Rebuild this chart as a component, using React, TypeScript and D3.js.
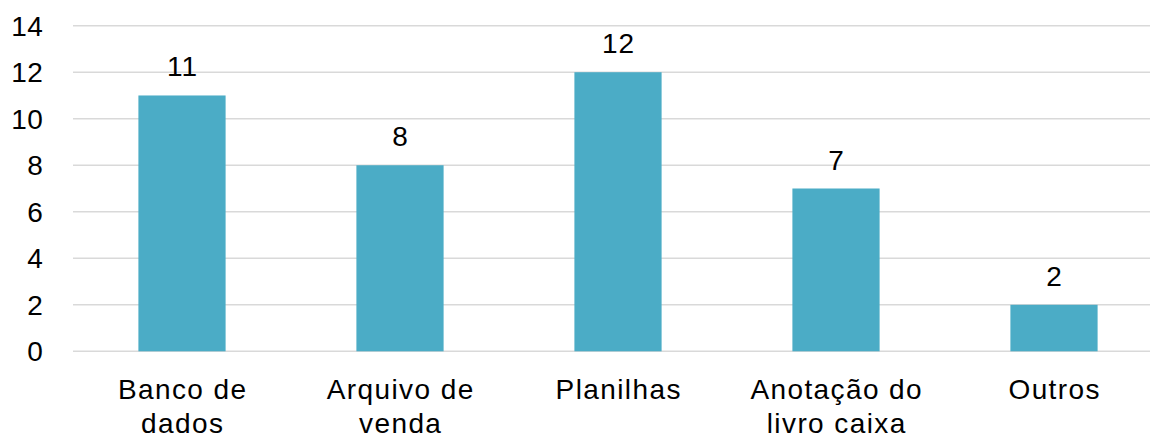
import React from "react";
import * as d3 from "d3";

const categories: string[][] = [
  ["Banco de", "dados"],
  ["Arquivo de", "venda"],
  ["Planilhas"],
  ["Anotação do", "livro caixa"],
  ["Outros"],
];
const values: number[] = [11, 8, 12, 7, 2];
const yTicks: number[] = [0, 2, 4, 6, 8, 10, 12, 14];

const W = 1150;
const H = 438;
const FONT = "'Liberation Sans', Arial, sans-serif";

export default function App() {
  const keys = categories.map((c) => c.join(" "));
  const x = d3
    .scaleBand<string>()
    .domain(keys)
    .range([73, 1163])
    .paddingInner(0.6)
    .paddingOuter(0.3);
  const y = d3.scaleLinear().domain([0, 14]).range([351.3, 25.7]);

  return (
    <div style={{ position: "absolute", left: 0, top: 0 }}>
      <svg width={W} height={H} style={{ display: "block", background: "#fff" }}>
        <g>
          {yTicks.map((t) => (
            <g key={t}>
              <line x1={73} x2={1163} y1={y(t)} y2={y(t)} stroke="#d9d9d9" strokeWidth={1.6} />
              <text
                x={43.5}
                y={y(t)}
                dy="0.35em"
                textAnchor="end"
                fontFamily={FONT}
                fontSize={28}
                letterSpacing={0.6}
                fill="#000"
              >
                {t}
              </text>
            </g>
          ))}
        </g>
        <g>
          {values.map((v, i) => {
            const k = keys[i];
            const bx = x(k)!;
            const bw = x.bandwidth();
            return (
              <g key={k}>
                <rect x={bx} y={y(v)} width={bw} height={y(0) - y(v)} fill="#4bacc6" />
                <text
                  x={bx + bw / 2 + 0.5}
                  y={y(v) - 19}
                  textAnchor="middle"
                  fontFamily={FONT}
                  fontSize={28}
                  letterSpacing={1}
                  fill="#000"
                >
                  {v}
                </text>
                {categories[i].map((line, j) => (
                  <text
                    key={j}
                    x={bx + bw / 2 + 0.7}
                    y={399 + j * 34}
                    textAnchor="middle"
                    fontFamily={FONT}
                    fontSize={28}
                    letterSpacing={1.4}
                    fill="#000"
                  >
                    {line}
                  </text>
                ))}
              </g>
            );
          })}
        </g>
      </svg>
    </div>
  );
}
